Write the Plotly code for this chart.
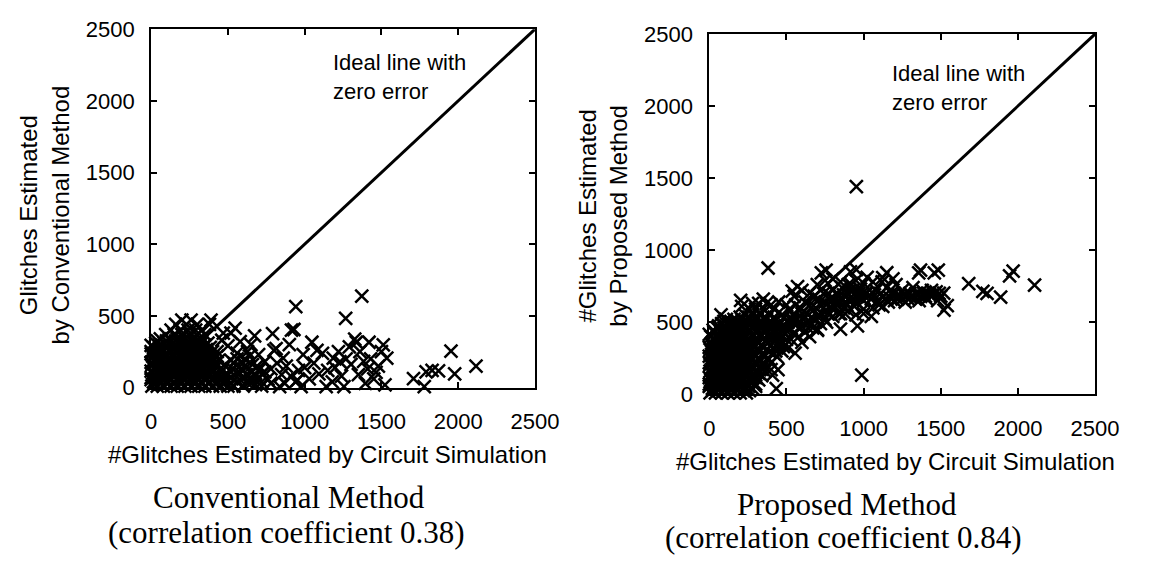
import plotly.graph_objects as go

# ---------------- data ----------------
tick_vals = [0, 500, 1000, 1500, 2000, 2500]
ideal_x = [0, 2500]
ideal_y = [0, 2500]

# Conventional method: (#glitches by circuit simulation, #glitches estimated)
conv_core = [
    (5, 10), (40, 10), (80, 10), (130, 10), (170, 10), (220, 10), (260, 10), (310, 10), (350, 10), (400, 10), (450, 10), (500, 10), (540, 10), (600, 10),
    (15, 40), (60, 40), (100, 40), (150, 40), (190, 40), (240, 40), (290, 40), (330, 40), (380, 40), (430, 40), (480, 40), (560, 40), (620, 40),
    (0, 70), (35, 70), (85, 70), (120, 70), (175, 70), (210, 70), (265, 70), (300, 70), (355, 70), (410, 70), (470, 70), (520, 70), (600, 70), (650, 70),
    (10, 100), (55, 100), (95, 100), (145, 100), (195, 100), (235, 100), (280, 100), (320, 100), (370, 100), (425, 100), (490, 100), (560, 100),
    (20, 130), (65, 130), (110, 130), (160, 130), (205, 130), (250, 130), (300, 130), (345, 130), (390, 130), (450, 130), (530, 130), (590, 130),
    (5, 160), (45, 160), (90, 160), (135, 160), (180, 160), (225, 160), (270, 160), (315, 160), (360, 160), (410, 160), (480, 160),
    (25, 190), (70, 190), (115, 190), (165, 190), (210, 190), (255, 190), (300, 190), (350, 190), (395, 190), (440, 190), (520, 190),
    (10, 220), (50, 220), (100, 220), (150, 220), (190, 220), (240, 220), (285, 220), (330, 220), (380, 220), (430, 220),
    (0, 250), (40, 250), (80, 250), (130, 250), (175, 250), (215, 250), (260, 250), (310, 250), (355, 250), (400, 250),
    (15, 280), (60, 280), (110, 280), (155, 280), (200, 280), (250, 280), (290, 280), (340, 280), (385, 280),
    (30, 310), (85, 310), (140, 310), (190, 310), (235, 310), (285, 310), (330, 310), (370, 310),
    (60, 340), (120, 340), (170, 340), (220, 340), (270, 340), (320, 340),
    (95, 370), (150, 370), (200, 370), (250, 370), (300, 370), (350, 370),
    (130, 400), (190, 400), (240, 400), (290, 400), (330, 400),
    (160, 440), (230, 440), (300, 440), (380, 440),
    (200, 470), (260, 470), (390, 470),
]
conv_core_fill = [
    (20, 25), (60, 25), (105, 25), (150, 25), (195, 25), (240, 25), (285, 25), (330, 25), (375, 25), (420, 25), (470, 25), (520, 25),
    (0, 55), (40, 55), (80, 55), (125, 55), (170, 55), (215, 55), (260, 55), (310, 55), (350, 55), (395, 55), (445, 55), (500, 55), (580, 55),
    (20, 85), (65, 85), (105, 85), (155, 85), (200, 85), (245, 85), (290, 85), (335, 85), (385, 85), (440, 85), (500, 85),
    (0, 115), (40, 115), (85, 115), (130, 115), (175, 115), (220, 115), (260, 115), (305, 115), (355, 115), (400, 115), (460, 115), (515, 115),
    (30, 145), (75, 145), (120, 145), (160, 145), (200, 145), (245, 145), (290, 145), (335, 145), (380, 145), (425, 145),
    (0, 175), (45, 175), (90, 175), (135, 175), (190, 175), (230, 175), (280, 175), (330, 175), (375, 175), (420, 175),
    (30, 205), (75, 205), (125, 205), (170, 205), (215, 205), (265, 205), (310, 205), (360, 205), (405, 205),
    (0, 235), (45, 235), (95, 235), (140, 235), (190, 235), (230, 235), (275, 235), (320, 235), (365, 235),
    (30, 265), (75, 265), (120, 265), (170, 265), (225, 265), (270, 265), (315, 265), (360, 265),
    (0, 295), (50, 295), (100, 295), (160, 295), (215, 295), (265, 295), (310, 295), (350, 295),
    (40, 325), (100, 325), (160, 325), (210, 325), (260, 325), (300, 325),
    (620, 90), (660, 160), (700, 120), (640, 220), (560, 200), (600, 170), (680, 80), (720, 10), (660, 40),
]
conv_mid = [
    (430, 250), (460, 330), (500, 290), (520, 380), (547, 415), (560, 240), (580, 320), (610, 200), (628, 250),
    (650, 300), (674, 360), (690, 150), (700, 230), (721, 95), (740, 180), (760, 60), (780, 130), (791, 376),
    (800, 260), (814, 272), (837, 7), (850, 90), (860, 205), (880, 150), (900, 300), (914, 400), (930, 405),
    (940, 40), (953, 51), (960, 120), (977, 7), (990, 230), (1000, 139), (640, 40), (680, 20), (720, 40),
    (580, 100), (620, 140), (660, 110), (700, 60), (740, 110), (780, 30), (820, 170), (870, 30), (910, 80),
    (600, 60), (540, 170), (470, 380), (942, 564), (1267, 482), (1372, 637),
]
conv_far = [
    (1047, 316), (1093, 95), (1116, 239), (1140, 7), (1186, 205), (1198, 139), (1256, 7), (1291, 283),
    (1302, 161), (1326, 338), (1337, 316), (1384, 183), (1395, 29), (1419, 316), (1465, 106), (1512, 298),
    (1523, 18), (1535, 205), (1030, 60), (1060, 170), (1150, 120), (1220, 250), (1240, 80), (1270, 200),
    (1350, 90), (1360, 250), (1430, 200), (1450, 60), (1480, 150), (1500, 250), (1180, 40), (1080, 260),
    (1230, 180), (1410, 130),
    (1709, 62), (1779, 7), (1791, 110), (1872, 117), (1977, 95), (1953, 254), (2116, 150), (1830, 120),
]

# Proposed method
prop_core = [
    (5, 10), (40, 10), (80, 10), (120, 10), (160, 10), (200, 10), (240, 10),
    (20, 40), (60, 40), (100, 40), (140, 40), (185, 40), (230, 40), (280, 40),
    (0, 70), (35, 70), (75, 70), (115, 70), (155, 70), (200, 70), (250, 70), (300, 70),
    (10, 100), (50, 100), (90, 100), (130, 100), (170, 100), (215, 100), (260, 100), (320, 100),
    (25, 130), (65, 130), (105, 130), (145, 130), (190, 130), (235, 130), (285, 130), (340, 130),
    (5, 160), (45, 160), (85, 160), (125, 160), (165, 160), (210, 160), (255, 160), (300, 160), (360, 160),
    (20, 190), (60, 190), (100, 190), (140, 190), (185, 190), (230, 190), (275, 190), (330, 190),
    (0, 220), (40, 220), (80, 220), (120, 220), (160, 220), (205, 220), (250, 220), (295, 220), (350, 220), (400, 220),
    (15, 250), (55, 250), (95, 250), (140, 250), (180, 250), (225, 250), (270, 250), (320, 250), (380, 250),
    (30, 280), (70, 280), (110, 280), (155, 280), (200, 280), (245, 280), (290, 280), (345, 280), (420, 280),
    (5, 310), (45, 310), (90, 310), (130, 310), (175, 310), (220, 310), (265, 310), (315, 310), (370, 310),
    (20, 340), (65, 340), (105, 340), (150, 340), (195, 340), (240, 340), (290, 340), (340, 340), (400, 340), (450, 340),
    (35, 370), (80, 370), (125, 370), (170, 370), (215, 370), (260, 370), (310, 370), (365, 370), (430, 370),
    (10, 400), (55, 400), (100, 400), (145, 400), (190, 400), (235, 400), (285, 400), (335, 400), (390, 400), (470, 400),
    (30, 430), (75, 430), (120, 430), (165, 430), (210, 430), (255, 430), (305, 430), (360, 430), (420, 430),
    (50, 460), (95, 460), (140, 460), (185, 460), (230, 460), (280, 460), (330, 460), (390, 460), (500, 460),
    (80, 490), (125, 490), (170, 490), (215, 490), (265, 490), (320, 490), (380, 490), (450, 490),
    (110, 520), (160, 520), (210, 520), (260, 520), (310, 520), (370, 520), (430, 520), (540, 520),
    (230, 550), (280, 550), (330, 550), (390, 550), (470, 550),
    (260, 590), (300, 590), (350, 590), (420, 590), (520, 590),
    (280, 630), (320, 630), (370, 630),
]
prop_core_fill = [
    (20, 25), (60, 25), (100, 25), (140, 25), (180, 25), (220, 25), (260, 25),
    (0, 55), (40, 55), (80, 55), (120, 55), (165, 55), (210, 55), (255, 55), (300, 55),
    (20, 85), (55, 85), (95, 85), (135, 85), (175, 85), (235, 85), (280, 85),
    (0, 115), (40, 115), (80, 115), (115, 115), (155, 115), (195, 115), (240, 115), (300, 115),
    (15, 145), (50, 145), (90, 145), (130, 145), (170, 145), (215, 145), (260, 145), (320, 145),
    (25, 175), (65, 175), (105, 175), (145, 175), (190, 175), (235, 175), (280, 175), (340, 175),
    (5, 205), (40, 205), (80, 205), (120, 205), (165, 205), (210, 205), (255, 205), (310, 205),
    (20, 235), (60, 235), (100, 235), (140, 235), (185, 235), (230, 235), (275, 235), (330, 235),
    (0, 265), (40, 265), (80, 265), (120, 265), (160, 265), (205, 265), (250, 265), (300, 265), (350, 265),
    (15, 295), (55, 295), (95, 295), (135, 295), (180, 295), (225, 295), (270, 295), (320, 295), (390, 295),
    (0, 325), (40, 325), (80, 325), (115, 325), (155, 325), (200, 325), (245, 325), (290, 325), (350, 325),
    (15, 355), (55, 355), (95, 355), (135, 355), (180, 355), (225, 355), (275, 355), (320, 355), (380, 355),
    (30, 385), (75, 385), (120, 385), (165, 385), (210, 385), (255, 385), (300, 385), (350, 385), (410, 385),
    (0, 415), (50, 415), (95, 415), (140, 415), (185, 415), (230, 415), (280, 415), (330, 415), (390, 415),
    (25, 445), (70, 445), (115, 445), (160, 445), (205, 445), (255, 445), (305, 445), (360, 445),
    (60, 475), (105, 475), (150, 475), (195, 475), (240, 475), (295, 475), (350, 475), (420, 475),
    (95, 505), (140, 505), (185, 505), (235, 505), (285, 505), (340, 505), (400, 505),
    (200, 535), (255, 535), (305, 535), (360, 535), (420, 535),
]
prop_band = [
    (420, 420), (450, 480), (480, 530), (500, 440), (520, 580), (540, 500), (560, 620), (580, 460), (600, 560),
    (620, 640), (640, 510), (660, 600), (680, 680), (700, 540), (720, 620), (740, 700), (760, 580), (780, 660),
    (800, 720), (820, 600), (840, 680), (860, 740), (880, 640), (900, 700), (920, 760), (940, 610), (960, 680),
    (980, 730), (1000, 650), (450, 350), (500, 380), (550, 420), (600, 470), (650, 500), (700, 450), (750, 520),
    (800, 540), (850, 560), (900, 580), (950, 550), (1000, 590), (430, 300), (480, 330), (530, 380), (580, 400),
    (620, 430), (670, 460), (720, 490), (770, 560), (830, 620), (880, 560), (930, 660), (990, 700), (350, 200),
    (380, 250), (400, 170), (410, 133), (440, 260), (470, 300), (510, 320), (556, 285), (600, 360), (650, 400),
    (701, 444), (760, 500), (550, 680), (600, 720), (650, 700), (700, 760), (750, 790), (800, 800), (850, 780),
    (900, 760), (950, 790), (1000, 770), (500, 620), (450, 640), (400, 620), (350, 660), (537, 716), (726, 842),
    (915, 849),
    (440, 400), (470, 440), (510, 500), (540, 550), (570, 520), (590, 600), (630, 560), (650, 620), (690, 600),
    (710, 660), (730, 560), (750, 640), (770, 700), (790, 600), (810, 660), (830, 700), (850, 640), (870, 690),
    (890, 620), (910, 660), (930, 720), (950, 640), (970, 700), (990, 660), (460, 380), (490, 420), (520, 450),
    (560, 480), (610, 520), (640, 460), (680, 520), (720, 540), (760, 620), (800, 660), (840, 560), (870, 600),
    (910, 720), (960, 720),
]
prop_far = [
    (1020, 700), (1050, 660), (1080, 720), (1100, 620), (1124, 610), (1130, 680), (1150, 740), (1180, 700),
    (1200, 650), (1230, 690), (1250, 720), (1280, 680), (1300, 700), (1332, 663), (1350, 690), (1380, 720),
    (1400, 680), (1420, 700), (1450, 690), (1470, 710), (1500, 680), (1521, 584), (1060, 600), (1120, 780),
    (1190, 800), (1250, 660), (1320, 740), (1440, 720), (1480, 650), (1160, 640), (1210, 760), (1270, 640),
    (1360, 650), (1410, 660), (1124, 809), (1357, 842), (1458, 842), (1060, 780), (1000, 560), (1050, 540),
    (1010, 700), (1030, 680), (1070, 690), (1090, 650), (1110, 700), (1140, 660), (1170, 670), (1200, 700),
    (1220, 660), (1260, 690), (1290, 660), (1310, 680), (1340, 700), (1370, 680), (1390, 700), (1430, 690),
    (1460, 700), (1490, 700),
    (953, 1441), (988, 133), (381, 876), (203, 652), (210, 610), (76, 550), (434, 39), (445, 170),
    (757, 861), (953, 865), (1369, 861), (1484, 861), (1681, 767), (1773, 713), (1800, 700), (1888, 674),
    (1946, 822), (1969, 854), (2108, 757), (1542, 615), (1519, 702), (850, 452), (960, 474), (572, 746),
    (1023, 811), (1150, 843),
]

conv_pts = conv_core + conv_core_fill + conv_mid + conv_far
prop_pts = prop_core + prop_core_fill + prop_band + prop_far

# ---------------- figure ----------------
W, H = 1159, 563
mk = dict(symbol="x-thin", size=13, color="black", line=dict(width=2.5, color="black"))

fig = go.Figure()
fig.add_trace(go.Scatter(x=[p[0] for p in conv_pts], y=[p[1] for p in conv_pts], mode="markers",
                         marker=mk, cliponaxis=False, xaxis="x", yaxis="y", showlegend=False))
fig.add_trace(go.Scatter(x=ideal_x, y=ideal_y, mode="lines", line=dict(color="black", width=3),
                         xaxis="x", yaxis="y", showlegend=False))
fig.add_trace(go.Scatter(x=[p[0] for p in prop_pts], y=[p[1] for p in prop_pts], mode="markers",
                         marker=mk, cliponaxis=False, xaxis="x2", yaxis="y2", showlegend=False))
fig.add_trace(go.Scatter(x=ideal_x, y=ideal_y, mode="lines", line=dict(color="black", width=3),
                         xaxis="x2", yaxis="y2", showlegend=False))

sans = "Liberation Sans, Arial, Helvetica, sans-serif"
serif = "Liberation Serif, Times New Roman, serif"

def ax(domain, anchor, standoff):
    return dict(domain=domain, anchor=anchor, range=[0, 2500], tickvals=tick_vals,
                showgrid=False, zeroline=False, showline=True, linecolor="black", linewidth=2,
                mirror="ticks", ticks="inside", ticklen=6, tickwidth=1.5, tickcolor="black",
                ticklabelstandoff=standoff,
                tickfont=dict(family=sans, size=22, color="black"))

def px(x):
    return x / W

def py(y):
    return 1 - y / H

fig.update_layout(
    width=W, height=H, margin=dict(l=0, r=0, t=0, b=0),
    paper_bgcolor="white", plot_bgcolor="white",
    xaxis=ax([px(149), px(543)], "y", 13),
    yaxis=ax([py(393), py(18)], "x", 10),
    xaxis2=ax([px(722), px(1118)], "y2", 13),
    yaxis2=ax([py(400), py(23)], "x2", 10),
)

def note(text, x, y, size, family=sans, angle=0):
    fig.add_annotation(text=text, x=x, y=y, xref="paper", yref="paper", showarrow=False,
                       xanchor="center", yanchor="middle", textangle=angle, align="center",
                       font=dict(family=family, size=size, color="black"))

# ideal line labels (data coords)
label_font = dict(family=sans, size=22, color="black")
fig.add_annotation(text="Ideal line with<br>zero error", x=1170, y=2165, xref="x", yref="y",
                   showarrow=False, xanchor="left", yanchor="middle", align="left", font=label_font)
fig.add_annotation(text="Ideal line with<br>zero error", x=1168, y=2128, xref="x2", yref="y2",
                   showarrow=False, xanchor="left", yanchor="middle", align="left", font=label_font)

# axis titles
note("Glitches Estimated<br>by Conventional Method", px(39), py(212), 24, angle=-90)
note("#Glitches Estimated<br>by Proposed Method", px(613), py(214), 24, angle=-90)
note("#Glitches Estimated by Circuit Simulation", px(330), py(463), 24)
note("#Glitches Estimated by Circuit Simulation", px(913), py(470), 24)

# captions
note("Conventional Method", px(291), py(508), 31, family=serif)
note("(correlation coefficient 0.38)", px(288), py(545), 31, family=serif)
note("Proposed Method", px(863), py(515), 31, family=serif)
note("(correlation coefficient 0.84)", px(860), py(550), 31, family=serif)

fig.write_html("out.html")
